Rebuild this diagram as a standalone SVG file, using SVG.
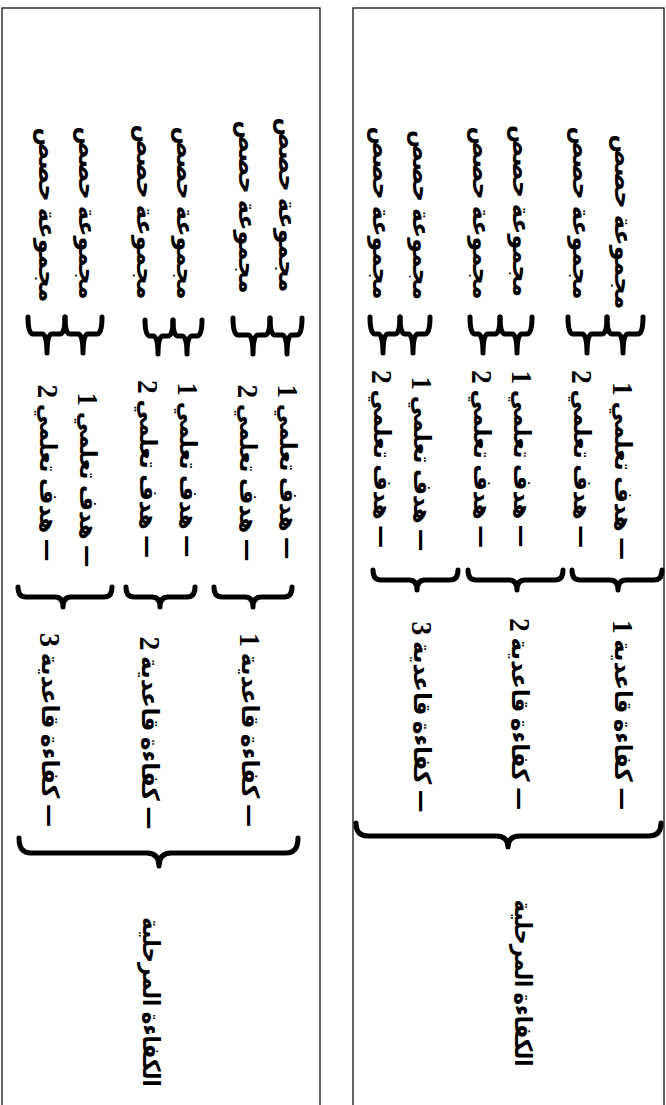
<svg xmlns="http://www.w3.org/2000/svg" width="666" height="1105" viewBox="0 0 666 1105">
<style>
.panel{fill:#fff;stroke:#222;stroke-width:1.4}
.t{font-family:'Liberation Serif','DejaVu Sans',serif;font-weight:bold;font-size:24px;fill:#000;text-anchor:middle;dominant-baseline:central;direction:rtl}
.d{font-family:'DejaVu Sans',sans-serif}
.n{font-size:29px}
.br{fill:none;stroke:#000;stroke-width:5;stroke-linecap:round;stroke-linejoin:round}
</style>
<rect width="666" height="1105" fill="#fff"/>
<rect class="panel" x="2" y="8" width="318" height="1120"/>
<rect class="panel" x="353" y="8" width="311" height="1120"/>

<g id="connectors">
  <path class="br" d="M370,317 Q370,334 375,334 H378 Q383,334 383,353 Q383,334 388,334 H395 Q400,334 400,317"/>
  <path class="br" d="M400,317 Q400,334 405,334 H408 Q413,334 413,353 Q413,334 418,334 H425 Q430,334 430,317"/>
  <path class="br" d="M470,317 Q470,334 475,334 H478 Q483,334 483,353 Q483,334 488,334 H495 Q500,334 500,317"/>
  <path class="br" d="M500,317 Q500,334 505,334 H512 Q517,334 517,353 Q517,334 522,334 H527 Q532,334 532,317"/>
  <path class="br" d="M568,317 Q568,334 573,334 H582 Q587,334 587,353 Q587,334 592,334 H602 Q607,334 607,317"/>
  <path class="br" d="M607,317 Q607,334 612,334 H618 Q623,334 623,353 Q623,334 628,334 H638 Q643,334 643,317"/>
  <path class="br" d="M28,317 Q28,334 33,334 H42 Q47,334 47,353 Q47,334 52,334 H60 Q65,334 65,317"/>
  <path class="br" d="M65,317 Q65,334 70,334 H78 Q83,334 83,353 Q83,334 88,334 H97 Q102,334 102,317"/>
  <path class="br" d="M145,320 Q145,336 150,336 H153 Q158,336 158,354 Q158,336 163,336 H168 Q173,336 173,320"/>
  <path class="br" d="M173,320 Q173,336 178,336 H182 Q187,336 187,354 Q187,336 192,336 H197 Q202,336 202,320"/>
  <path class="br" d="M233,318 Q233,335 238,335 H248 Q253,335 253,354 Q253,335 258,335 H265 Q270,335 270,318"/>
  <path class="br" d="M270,318 Q270,335 275,335 H282 Q287,335 287,354 Q287,335 292,335 H297 Q302,335 302,318"/>
  <path class="br" d="M373,570 Q373,580 381,580 H409 Q417,580 417,590 Q417,580 425,580 H450 Q458,580 458,570"/>
  <path class="br" d="M468,570 Q468,580 476,580 H509 Q517,580 517,590 Q517,580 525,580 H555 Q563,580 563,570"/>
  <path class="br" d="M572,570 Q572,580 580,580 H610 Q618,580 618,590 Q618,580 626,580 H654 Q662,580 662,570"/>
  <path class="br" d="M18,587 Q18,597 26,597 H55 Q63,597 63,607 Q63,597 71,597 H104 Q112,597 112,587"/>
  <path class="br" d="M126,587 Q126,597 134,597 H152 Q160,597 160,607 Q160,597 168,597 H187 Q195,597 195,587"/>
  <path class="br" d="M214,587 Q214,597 222,597 H245 Q253,597 253,607 Q253,597 261,597 H284 Q292,597 292,587"/>
  <path class="br" d="M356,823 Q356,836 368,836 H496 Q508,836 508,847 Q508,836 520,836 H649 Q661,836 661,823"/>
  <path class="br" d="M19,838 Q19,853 31,853 H147 Q159,853 159,866 Q159,853 171,853 H286 Q298,853 298,838"/>
</g>

<g id="r-sess-1"><text class="t" transform="translate(381,213) rotate(90)" textLength="173" lengthAdjust="spacingAndGlyphs">مجموعة حصص</text></g>
<g id="r-sess-2"><text class="t" transform="translate(421,215) rotate(90)" textLength="170" lengthAdjust="spacingAndGlyphs">مجموعة حصص</text></g>
<g id="r-sess-3"><text class="t" transform="translate(481,213) rotate(90)" textLength="173" lengthAdjust="spacingAndGlyphs">مجموعة حصص</text></g>
<g id="r-sess-4"><text class="t" transform="translate(521,211) rotate(90)" textLength="172" lengthAdjust="spacingAndGlyphs">مجموعة حصص</text></g>
<g id="r-sess-5"><text class="t" transform="translate(581,213) rotate(90)" textLength="173" lengthAdjust="spacingAndGlyphs">مجموعة حصص</text></g>
<g id="r-sess-6"><text class="t" transform="translate(623,222) rotate(90)" textLength="175" lengthAdjust="spacingAndGlyphs">مجموعة حصص</text></g>

<g id="r-obj-1"><text class="t" transform="translate(382,459) rotate(90)" textLength="178" lengthAdjust="spacingAndGlyphs"><tspan class="d">—</tspan> هدف تعلمي <tspan class="n">2</tspan></text></g>
<g id="r-obj-2"><text class="t" transform="translate(422,464) rotate(90)" textLength="175" lengthAdjust="spacingAndGlyphs"><tspan class="d">—</tspan> هدف تعلمي <tspan class="n">1</tspan></text></g>
<g id="r-obj-3"><text class="t" transform="translate(482,459) rotate(90)" textLength="178" lengthAdjust="spacingAndGlyphs"><tspan class="d">—</tspan> هدف تعلمي <tspan class="n">2</tspan></text></g>
<g id="r-obj-4"><text class="t" transform="translate(522,459) rotate(90)" textLength="177" lengthAdjust="spacingAndGlyphs"><tspan class="d">—</tspan> هدف تعلمي <tspan class="n">1</tspan></text></g>
<g id="r-obj-5"><text class="t" transform="translate(582,459) rotate(90)" textLength="178" lengthAdjust="spacingAndGlyphs"><tspan class="d">—</tspan> هدف تعلمي <tspan class="n">2</tspan></text></g>
<g id="r-obj-6"><text class="t" transform="translate(623,471) rotate(90)" textLength="178" lengthAdjust="spacingAndGlyphs"><tspan class="d">—</tspan> هدف تعلمي <tspan class="n">1</tspan></text></g>

<g id="r-base-3"><text class="t" transform="translate(422,717) rotate(90)" textLength="191" lengthAdjust="spacingAndGlyphs"><tspan class="d">—</tspan> كفاءة قاعدية <tspan class="n">3</tspan></text></g>
<g id="r-base-2"><text class="t" transform="translate(520,714) rotate(90)" textLength="192" lengthAdjust="spacingAndGlyphs"><tspan class="d">—</tspan> كفاءة قاعدية <tspan class="n">2</tspan></text></g>
<g id="r-base-1"><text class="t" transform="translate(623,715) rotate(90)" textLength="190" lengthAdjust="spacingAndGlyphs"><tspan class="d">—</tspan> كفاءة قاعدية <tspan class="n">1</tspan></text></g>

<g id="r-stage"><text class="t" transform="translate(523,983) rotate(90)" textLength="167" lengthAdjust="spacingAndGlyphs">الكفاءة المرحلية</text></g>

<g id="l-sess-1"><text class="t" transform="translate(47,215) rotate(90)" textLength="175" lengthAdjust="spacingAndGlyphs">مجموعة حصص</text></g>
<g id="l-sess-2"><text class="t" transform="translate(87,213) rotate(90)" textLength="173" lengthAdjust="spacingAndGlyphs">مجموعة حصص</text></g>
<g id="l-sess-3"><text class="t" transform="translate(145,212) rotate(90)" textLength="175" lengthAdjust="spacingAndGlyphs">مجموعة حصص</text></g>
<g id="l-sess-4"><text class="t" transform="translate(185,213) rotate(90)" textLength="173" lengthAdjust="spacingAndGlyphs">مجموعة حصص</text></g>
<g id="l-sess-5"><text class="t" transform="translate(247,207) rotate(90)" textLength="173" lengthAdjust="spacingAndGlyphs">مجموعة حصص</text></g>
<g id="l-sess-6"><text class="t" transform="translate(287,205) rotate(90)" textLength="175" lengthAdjust="spacingAndGlyphs">مجموعة حصص</text></g>

<g id="l-obj-1"><text class="t" transform="translate(48,473) rotate(90)" textLength="177" lengthAdjust="spacingAndGlyphs"><tspan class="d">—</tspan> هدف تعلمي <tspan class="n">2</tspan></text></g>
<g id="l-obj-2"><text class="t" transform="translate(88,480) rotate(90)" textLength="175" lengthAdjust="spacingAndGlyphs"><tspan class="d">—</tspan> هدف تعلمي <tspan class="n">1</tspan></text></g>
<g id="l-obj-3"><text class="t" transform="translate(148,469) rotate(90)" textLength="178" lengthAdjust="spacingAndGlyphs"><tspan class="d">—</tspan> هدف تعلمي <tspan class="n">2</tspan></text></g>
<g id="l-obj-4"><text class="t" transform="translate(188,470) rotate(90)" textLength="175" lengthAdjust="spacingAndGlyphs"><tspan class="d">—</tspan> هدف تعلمي <tspan class="n">1</tspan></text></g>
<g id="l-obj-5"><text class="t" transform="translate(248,473) rotate(90)" textLength="177" lengthAdjust="spacingAndGlyphs"><tspan class="d">—</tspan> هدف تعلمي <tspan class="n">2</tspan></text></g>
<g id="l-obj-6"><text class="t" transform="translate(288,472) rotate(90)" textLength="175" lengthAdjust="spacingAndGlyphs"><tspan class="d">—</tspan> هدف تعلمي <tspan class="n">1</tspan></text></g>

<g id="l-base-3"><text class="t" transform="translate(50,730) rotate(90)" textLength="194" lengthAdjust="spacingAndGlyphs"><tspan class="d">—</tspan> كفاءة قاعدية <tspan class="n">3</tspan></text></g>
<g id="l-base-2"><text class="t" transform="translate(150,733) rotate(90)" textLength="193" lengthAdjust="spacingAndGlyphs"><tspan class="d">—</tspan> كفاءة قاعدية <tspan class="n">2</tspan></text></g>
<g id="l-base-1"><text class="t" transform="translate(250,730) rotate(90)" textLength="194" lengthAdjust="spacingAndGlyphs"><tspan class="d">—</tspan> كفاءة قاعدية <tspan class="n">1</tspan></text></g>

<g id="l-stage"><text class="t" transform="translate(151,1002) rotate(90)" textLength="170" lengthAdjust="spacingAndGlyphs">الكفاءة المرحلية</text></g>
</svg>
